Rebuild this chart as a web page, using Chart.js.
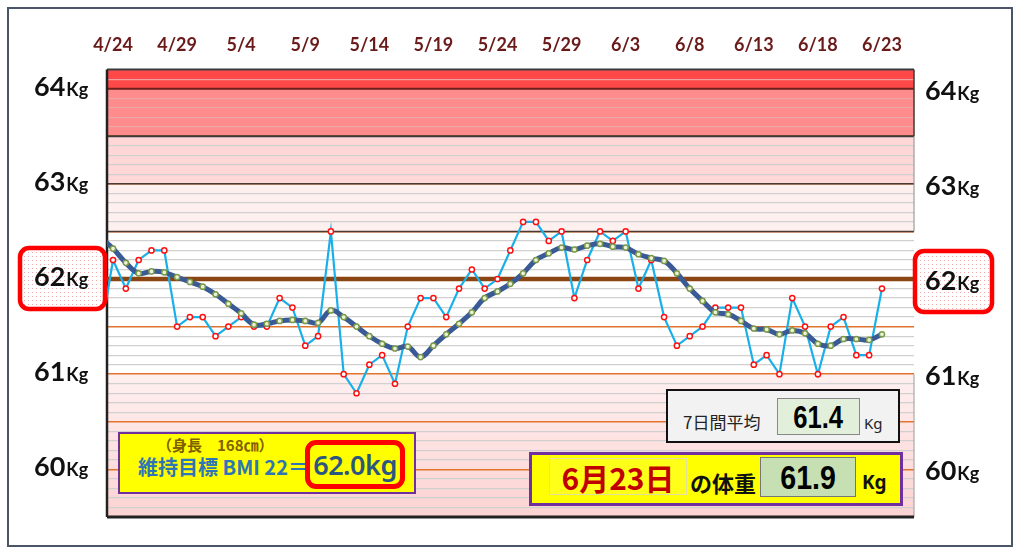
<!DOCTYPE html>
<html lang="ja">
<head>
<meta charset="UTF-8">
<title>体重グラフ</title>
<script src="https://cdn.jsdelivr.net/npm/chart.js"></script>
<style>
    body {
        margin: 0;
        background: #fff;
        font-family: "Noto Sans CJK JP", sans-serif;
    }

    #wrap {
        position: relative;
        width: 1024px;
        height: 554px;
        overflow: hidden;
    }

    #frame {
        position: absolute;
        left: 7px;
        top: 7px;
        width: 1002px;
        height: 536px;
        border: 2px solid #4a5568;
    }

    canvas {
        position: absolute;
        left: 0;
        top: 0;
    }

    .box {
        position: absolute;
        box-sizing: border-box;
        display: flex;
        align-items: center;
        justify-content: center;
        white-space: nowrap;
        line-height: 1;
    }

    .txt {
        position: absolute;
        white-space: nowrap;
        line-height: 1;
    }

    .num span {
        display: inline-block;
        font-family: "Liberation Sans", sans-serif;
        font-weight: bold;
        color: #000;
    }
</style>
</head>
<body>
<div id="wrap">
    <div id="frame"></div>
    <canvas id="weightChart" width="1024" height="554"></canvas>

    <!-- BMI target box -->
    <div class="box" style="left:118px;top:432px;width:298px;height:62px;background:#ffff00;border:2px solid #7030a0;"></div>
    <div class="txt" style="left:157px;top:437px;font-size:15px;font-weight:bold;color:#7f6000;">（身長　168㎝）</div>
    <div class="txt" style="left:138px;top:457px;font-size:20px;font-weight:bold;color:#2e75b6;">維持目標 BMI 22＝</div>
    <div class="box" style="left:305px;top:440px;width:100px;height:49px;border:5px solid #ff0000;border-radius:11px;background:#ffff00;font-size:27px;font-weight:600;color:#2b5680;font-family:'Noto Sans',sans-serif;letter-spacing:-0.5px;">62.0kg</div>

    <!-- 7 day average -->
    <div class="box" style="left:666px;top:389px;width:234px;height:54px;background:#f2f2f2;border:2px solid #111;"></div>
    <div class="txt" style="left:683px;top:413px;font-size:17px;color:#222;">7日間平均</div>
    <div class="box num" style="left:777px;top:398px;width:83px;height:37px;background:#e2efda;border:1px solid #888;font-size:32px;"><span style="transform:scaleX(0.8)">61.4</span></div>
    <div class="txt" style="left:864px;top:416px;font-size:15px;color:#222;font-family:'Noto Sans',sans-serif;">Kg</div>

    <!-- today's weight -->
    <div class="box" style="left:529px;top:452px;width:374px;height:54px;background:#ffff00;border:3px solid #7030a0;"></div>
    <div class="box" style="left:549px;top:458px;width:138px;height:37px;background:#ffff1a;border:1px solid #e0e0a0;font-size:30px;font-weight:bold;color:#c00000;">6月23日</div>
    <div class="txt" style="left:690px;top:471px;font-size:22px;font-weight:bold;color:#111;">の体重</div>
    <div class="box num" style="left:760px;top:457px;width:96px;height:40px;background:#c6e0b4;border:1px solid #777;font-size:34px;"><span style="transform:scaleX(0.84)">61.9</span></div>
    <div class="txt" style="left:862px;top:473px;font-size:19px;font-weight:bold;color:#111;font-family:'Noto Sans',sans-serif;">Kg</div>
</div>

<script>
    // x axis labels, every 5 days starting 4/24
    const tickLabels = ['4/24', '4/29', '5/4', '5/9', '5/14', '5/19', '5/24', '5/29', '6/3', '6/8', '6/13', '6/18', '6/23'];

    // daily weight, 4/23 .. 6/23
    const weights = [
        61.4, 62.2, 61.9, 62.2, 62.3, 62.3, 61.5, 61.6, 61.6, 61.4, 61.5,
        61.6, 61.5, 61.5, 61.8, 61.7, 61.3, 61.4, 62.5, 61.0, 60.8, 61.1,
        61.2, 60.9, 61.5, 61.8, 61.8, 61.6, 61.9, 62.1, 61.9, 62.0, 62.3,
        62.6, 62.6, 62.4, 62.5, 61.8, 62.2, 62.5, 62.4, 62.5, 61.9, 62.2,
        61.6, 61.3, 61.4, 61.5, 61.7, 61.7, 61.7, 61.1, 61.2, 61.0, 61.8,
        61.5, 61.0, 61.5, 61.6, 61.2, 61.2, 61.9
    ];

    // 7 day moving average, 4/23 .. 6/23
    const avg7 = [
        62.44, 62.32, 62.17, 62.06, 62.08, 62.07, 62.02, 61.97, 61.92, 61.84, 61.74,
        61.64, 61.52, 61.53, 61.56, 61.57, 61.56, 61.54, 61.67, 61.60, 61.50, 61.40,
        61.32, 61.27, 61.29, 61.18, 61.30, 61.42, 61.53, 61.65, 61.80, 61.87, 61.95,
        62.06, 62.20, 62.27, 62.33, 62.31, 62.35, 62.37, 62.34, 62.33, 62.26, 62.22,
        62.19, 62.06, 61.90, 61.77, 61.65, 61.63, 61.56, 61.48, 61.47, 61.42, 61.46,
        61.43, 61.32, 61.30, 61.37, 61.37, 61.36, 61.42
    ];

    const kgLabels = [64, 63, 62, 61, 60];
    const targetWeight = 62;

    // background zones (kg ranges)
    const bands = [
        { from: 64.0, to: 64.2, color: '#ff4848' },
        { from: 63.5, to: 64.0, color: '#ff8c8c' },
        { from: 63.0, to: 63.5, color: '#ffd7d7' },
        { from: 62.5, to: 63.0, color: '#fff0f0' },
        { from: 61.0, to: 62.5, color: '#ffffff' },
        { from: 59.5, to: 61.0, color: '#fff0f0', grad: '#fcd2d2' }
    ];

    // day index: 0 = 4/24, so 4/23 is -1
    const toPoints = arr => arr.map((v, i) => ({ x: i - 1, y: v }));

    // dotted fill for the 62kg boxes
    const pc = document.createElement('canvas');
    pc.width = 4;
    pc.height = 4;
    const pctx = pc.getContext('2d');
    pctx.fillStyle = '#ffffff';
    pctx.fillRect(0, 0, 4, 4);
    pctx.fillStyle = '#f3a9a9';
    pctx.fillRect(0, 0, 1, 1);

    function drawKg(ctx, k, x, cy) {
        ctx.fillStyle = '#111';
        ctx.textBaseline = 'alphabetic';
        ctx.textAlign = 'left';
        ctx.font = 'bold 27px Lato, "Open Sans", sans-serif';
        const s = String(k);
        ctx.fillText(s, x, cy + 10);
        const w = ctx.measureText(s).width;
        ctx.font = 'bold 18px Lato, "Open Sans", sans-serif';
        ctx.fillText('Kg', x + w + 1, cy + 10);
    }

    function roundBox(ctx, x, y, w, h, r) {
        ctx.beginPath();
        ctx.roundRect(x, y, w, h, r);
        ctx.fillStyle = ctx.createPattern(pc, 'repeat');
        ctx.fill();
        ctx.lineWidth = 4.5;
        ctx.strokeStyle = '#ff0000';
        ctx.stroke();
    }

    const zonePlugin = {
        id: 'zones',
        beforeDraw(chart) {
            const { ctx, chartArea: a, scales: { y } } = chart;
            ctx.save();
            bands.forEach(b => {
                const top = y.getPixelForValue(b.to);
                const bot = y.getPixelForValue(b.from);
                if (b.grad) {
                    const g = ctx.createLinearGradient(0, top, 0, bot);
                    g.addColorStop(0, b.color);
                    g.addColorStop(1, b.grad);
                    ctx.fillStyle = g;
                } else {
                    ctx.fillStyle = b.color;
                }
                ctx.fillRect(a.left, top, a.right - a.left, bot - top);
            });
            ctx.restore();
        },
        beforeDatasetsDraw(chart) {
            const { ctx, chartArea: a, scales: { y } } = chart;
            const hline = (v, color, w, x0 = a.left, x1 = a.right) => {
                const py = y.getPixelForValue(v);
                ctx.strokeStyle = color;
                ctx.lineWidth = w;
                ctx.beginPath();
                ctx.moveTo(x0, py);
                ctx.lineTo(x1, py);
                ctx.stroke();
            };
            const vline = (x, v0, v1, color, w) => {
                ctx.strokeStyle = color;
                ctx.lineWidth = w;
                ctx.beginPath();
                ctx.moveTo(x, y.getPixelForValue(v0));
                ctx.lineTo(x, y.getPixelForValue(v1));
                ctx.stroke();
            };
            ctx.save();
            hline(64.2, '#3a3a3a', 2);
            hline(64.0, '#6e2020', 2);
            hline(63.5, '#3a3a3a', 2);
            hline(63.0, '#4a3a30', 1.5);
            hline(62.5, '#4a3a30', 1.5);
            vline(a.right, 64.2, 63.5, '#3a3a3a', 1.5);
            vline(a.right, 63.5, 62.5, '#8a8a8a', 1);
            vline(a.right, 61.0, 59.5, '#9a9a9a', 1);
            vline(a.left, 64.2, 59.5, '#222', 2.5);
            hline(59.5, '#222', 3);
            hline(targetWeight, '#8b4513', 4.5, a.left - 4, a.right + 6);
            ctx.restore();
        },
        afterDraw(chart) {
            const { ctx, scales: { y } } = chart;
            ctx.save();
            const t = y.getPixelForValue(targetWeight);
            roundBox(ctx, 20, t - 31, 85, 61, 9);
            roundBox(ctx, 915, t - 28, 77, 61, 9);
            kgLabels.forEach(k => {
                const py = y.getPixelForValue(k);
                drawKg(ctx, k, 34, py - 3);
                drawKg(ctx, k, 925, py + 1);
            });
            ctx.restore();
        }
    };

    const ctx = document.getElementById('weightChart').getContext('2d');
    new Chart(ctx, {
        type: 'line',
        data: {
            datasets: [
                {
                    label: '7日間平均',
                    data: toPoints(avg7),
                    borderColor: '#3a5a96',
                    borderWidth: 5,
                    tension: 0.4,
                    pointRadius: 2.6,
                    pointBorderWidth: 1.5,
                    pointBorderColor: '#7a9a48',
                    pointBackgroundColor: '#eef3d8',
                    order: 0
                },
                {
                    label: '体重',
                    data: toPoints(weights),
                    borderColor: '#19b0ea',
                    borderWidth: 2.2,
                    tension: 0,
                    pointRadius: 2.6,
                    pointBorderWidth: 1.5,
                    pointBorderColor: '#ff1010',
                    pointBackgroundColor: '#ffffff',
                    order: 1
                }
            ]
        },
        options: {
            responsive: false,
            animation: false,
            layout: {
                padding: { left: 107, right: 110, top: 20, bottom: 37 }
            },
            plugins: {
                legend: { display: false },
                tooltip: { enabled: false }
            },
            scales: {
                x: {
                    type: 'linear',
                    position: 'top',
                    min: -0.47,
                    max: 62.5,
                    grid: { display: false, drawTicks: false },
                    border: { display: false },
                    ticks: {
                        stepSize: 5,
                        includeBounds: false,
                        autoSkip: false,
                        maxRotation: 0,
                        padding: 14,
                        color: '#6b1a1a',
                        font: { family: 'Lato', size: 18, weight: 'bold' },
                        callback: v => tickLabels[v / 5] || ''
                    }
                },
                y: {
                    min: 59.5,
                    max: 64.2,
                    border: { display: false },
                    ticks: { display: false, stepSize: 0.1 },
                    grid: {
                        drawTicks: false,
                        color: c => {
                            const t = Math.round(c.tick.value * 10);
                            if (t % 5 === 0) return '#e0742c';
                            return t > 635 ? 'rgba(235,170,170,0.9)' : '#d0d0d0';
                        },
                        lineWidth: c => (Math.round(c.tick.value * 10) % 5 === 0 ? 1.6 : 1.2)
                    }
                }
            }
        },
        plugins: [zonePlugin]
    });
</script>
</body>
</html>
